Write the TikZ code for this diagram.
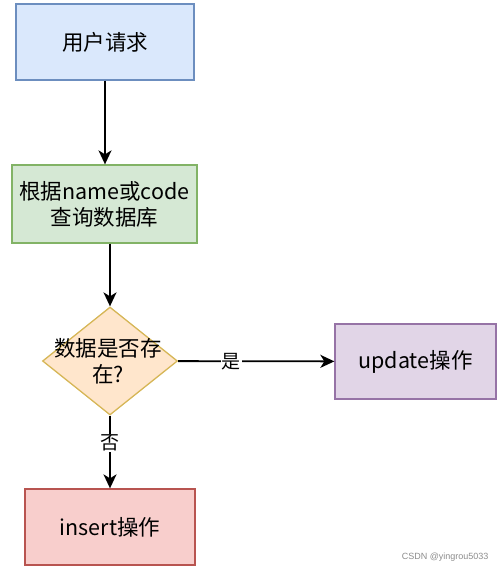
\documentclass[tikz,border=0pt]{standalone}
\usepackage{fontspec}
\setmainfont{Noto Sans CJK SC}
\newfontfamily\wm{Liberation Sans}
\usetikzlibrary{arrows.meta,shapes.geometric}
\definecolor{bluef}{HTML}{DAE8FC}\definecolor{blued}{HTML}{6C8EBF}
\definecolor{greenf}{HTML}{D5E8D4}\definecolor{greend}{HTML}{82B366}
\definecolor{orangef}{HTML}{FFE6CC}\definecolor{oranged}{HTML}{D6B656}
\definecolor{purplef}{HTML}{E1D5E7}\definecolor{purpled}{HTML}{9673A6}
\definecolor{redf}{HTML}{F8CECC}\definecolor{redd}{HTML}{B85450}
\begin{document}
\begin{tikzpicture}[x=1pt,y=-1pt,
  box/.style={draw, line width=1.3pt, inner sep=0pt, align=center, font=\fontsize{21.5}{26}\selectfont},
  arr/.style={line width=1.8pt, -{Stealth[length=14pt,width=13pt,inset=4pt]}},
  lbl/.style={fill=white, inner sep=1pt, font=\fontsize{19}{22}\selectfont}]
\useasboundingbox (0,0) rectangle (499,568);
\node[box, fill=bluef, draw=blued, minimum width=178pt, minimum height=76pt] (req) at (105,42) {用户请求};
\node[box, fill=greenf, draw=greend, minimum width=185pt, minimum height=78pt] (query) at (104.5,204) {根据name或code\\查询数据库};
\node[box, fill=orangef, draw=oranged, diamond, aspect=1.25, minimum width=135pt, minimum height=108pt] (dec) at (110,361) {};
\node[font=\fontsize{21.5}{26}\selectfont, align=center] (dectext) at (108,361) {数据是否存\\在?};
\node[box, fill=purplef, draw=purpled, minimum width=161pt, minimum height=75pt] (upd) at (415.5,361.5) {update操作};
\node[box, fill=redf, draw=redd, minimum width=170pt, minimum height=76pt] (ins) at (110,527) {insert操作};
\draw[arr] (req) -- (req |- query.north);
\draw[arr] (query.south -| dec.north) -- (dec.north);
\draw[arr] (dec) -- node[lbl, pos=0.34] {是} (upd);
\draw[arr] (dec) -- node[lbl, pos=0.38] {否} (ins);
\node[font=\wm\fontsize{9}{10}\selectfont, text=black!45, anchor=east] (mark) at (492,557) {CSDN @yingrou5033};
\end{tikzpicture}
\end{document}
